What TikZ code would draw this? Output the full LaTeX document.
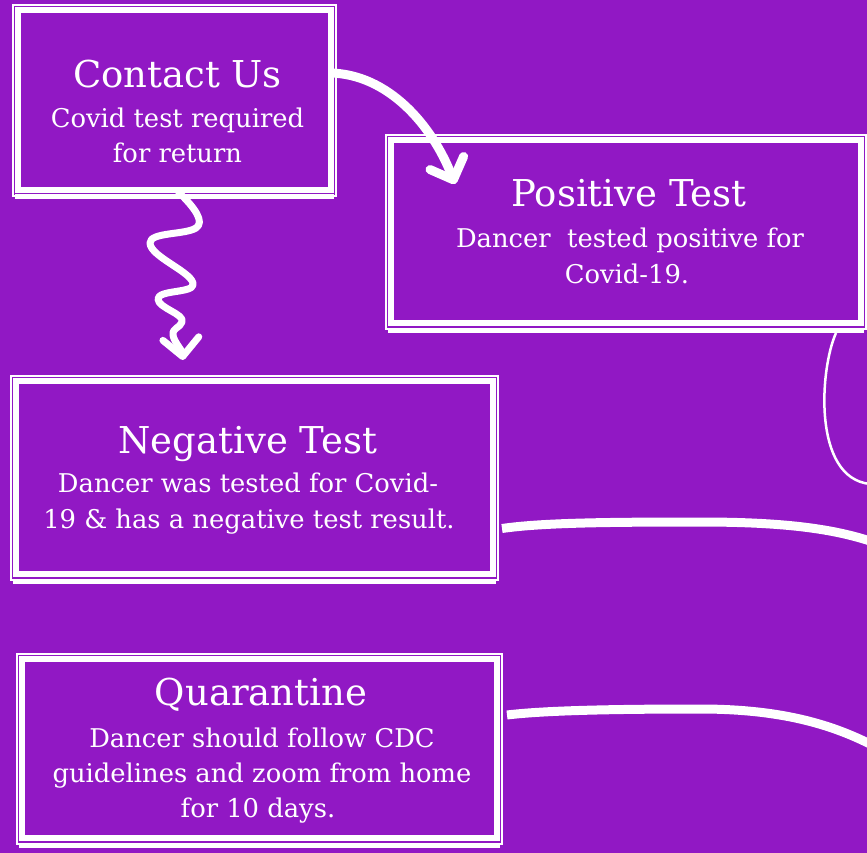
\documentclass[tikz,border=0pt]{standalone}
\usepackage{fontspec}
\setmainfont{DejaVu Serif}
\usetikzlibrary{arrows.meta}
\definecolor{bgpurple}{RGB}{145,24,196}
\begin{document}
\begin{tikzpicture}[x=1pt,y=-1pt,
  box/.style={draw=white, line width=6pt, inner sep=0pt, outer sep=0pt},
  edgeline/.style={draw=white, line width=1.6pt},
  band/.style={draw=white, line width=5pt},
  title/.style={text=white, font=\fontsize{37}{44}\selectfont, anchor=base, inner sep=0pt},
  body/.style={text=white, font=\fontsize{25.8}{30}\selectfont, anchor=base, inner sep=0pt},
  flow/.style={draw=white, line width=9pt},
  tipped/.style={-{Straight Barb[length=18pt,width=36pt,round]}}]
\fill[bgpurple] (0,0) rectangle (867,853);
\useasboundingbox (0,0) rectangle (867,853);

% boxes
\node[box, minimum width=313pt, minimum height=180pt] (contact) at (174.5,100) {};
\node[box, minimum width=470pt, minimum height=183pt] (positive) at (626,231.5) {};
\node[box, minimum width=477pt, minimum height=193pt] (negative) at (254.5,477.5) {};
\node[box, minimum width=475pt, minimum height=179pt] (quarantine) at (259.5,748.5) {};

% brush-like outer strokes
\foreach \b in {contact,positive,negative,quarantine}{
  \draw[edgeline] ([shift={(-5,-5)}]\b.north west) rectangle ([shift={(5,6)}]\b.south east);
  \draw[band] ([shift={(-3,7)}]\b.south west) -- ([shift={(3,7)}]\b.south east);
}

% texts
\node[title] (ct) at (177.5,88) {Contact Us};
\node[body] (cb1) at (177.5,128) {Covid test required};
\node[body] (cb2) at (177.5,163) {for return};

\node[title] (pt) at (629,207) {Positive Test};
\node[body] (pb1) at (630,247) {Dancer\ \ tested positive for};
\node[body] (pb2) at (627,283) {Covid-19.};

\node[title] (nt) at (248,453) {Negative Test};
\node[body] (nb1) at (248,492) {Dancer was tested for Covid-};
\node[body] (nb2) at (249,528) {19 \& has a negative test result.};

\node[title] (qt) at (261,705) {Quarantine};
\node[body] (qb1) at (262,747) {Dancer should follow CDC};
\node[body] (qb2) at (262,782) {guidelines and zoom from home};
\node[body] (qb3) at (258,817) {for 10 days.};

% connector anchors
\coordinate (a1) at ([shift={(-1,-27)}]contact.east);
\coordinate (a1end) at (455,184);
\coordinate (s1) at ([shift={(4,2)}]contact.south);
\coordinate (s1end) at (183,360);
\coordinate (p1) at ([shift={(-25,10)}]positive.south east);
\coordinate (p1end) at (870,484);
\coordinate (n1) at ([shift={(9,51)}]negative.east);
\coordinate (n1end) at (870,541);
\coordinate (q1) at ([shift={(10,-33.5)}]quarantine.east);
\coordinate (q1end) at (870,744);

% connectors
\draw[flow, tipped] (a1) .. controls (388,74) and (432,125) .. (a1end);
\draw[flow, line width=7pt, tipped, line cap=round, line join=round]
  (s1) .. controls (195,208) and (205,222) .. (196,228)
  .. controls (185,235) and (150,232) .. (150,243)
  .. controls (150,257) and (195,273) .. (193,285)
  .. controls (192,293) and (158,290) .. (158,299)
  .. controls (158,308) and (185,314) .. (182,322)
  .. controls (180,328) and (172,328) .. (173,335)
  .. controls (174,342) and (182,350) .. (s1end);
\draw[draw=white, line width=2.5pt] (p1) .. controls (820,368) and (812,478) .. (p1end);
\draw[flow] (n1) .. controls (540,523) and (600,522) .. (700,522)
  .. controls (780,522) and (830,528) .. (n1end);
\draw[flow] (q1) .. controls (540,711) and (600,709) .. (700,709)
  .. controls (780,709) and (830,724) .. (q1end);
\end{tikzpicture}
\end{document}
